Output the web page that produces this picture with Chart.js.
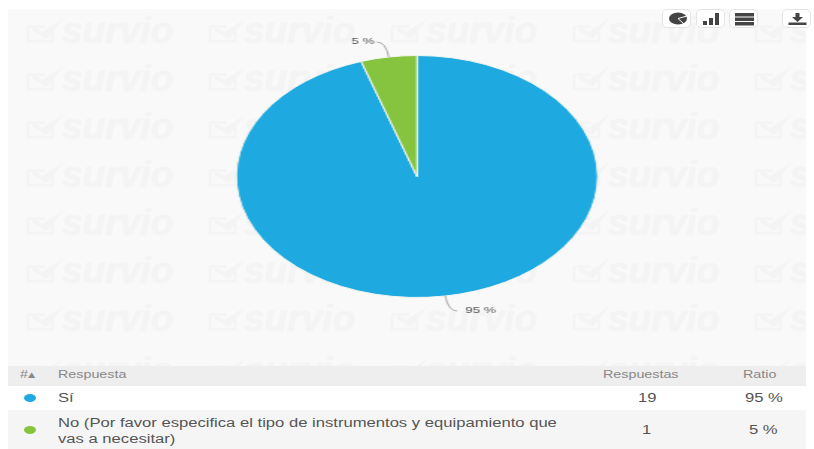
<!DOCTYPE html>
<html>
<head>
<meta charset="utf-8">
<script src="https://cdn.jsdelivr.net/npm/chart.js@4"></script>
<style>
  html, body { margin: 0; padding: 0; background: #fff; }
  #pagina { position: relative; width: 814px; height: 449px; overflow: hidden; font-family: "Liberation Sans", Arial, sans-serif; }
  #painel { position: absolute; left: 8px; top: 9px; width: 798px; height: 357px; background: #f9f9f9; overflow: hidden; }
  .marca { position: absolute; color: #f4f4f4; font-weight: bold; font-style: italic; font-size: 36px; line-height: 36px; white-space: nowrap; transform-origin: left top; transform: scaleX(1.03); -webkit-text-stroke: 0.6px #f4f4f4; }
  .visto { position: absolute; }
  #grafico { position: absolute; left: 0; top: 0; width: 814px; height: 366px; }
  .botao { position: absolute; top: 9px; width: 27px; height: 17px; background: #fff; border: 1px solid #e4e4e4; border-radius: 5px; }
  .botao svg { position: absolute; left: 3px; top: 2px; }
  .linha { position: absolute; left: 8px; width: 798px; }
  .txt { position: absolute; white-space: nowrap; transform-origin: left top; font-size: 11px; line-height: 14px; color: #555; }
  .ponto { position: absolute; width: 12px; height: 8px; border-radius: 50%; }
</style>
</head>
<body>
<div id="pagina">
  <div id="painel"></div>
  <canvas id="grafico" width="545" height="366" style="width:814px;height:366px"></canvas>
  <div class="botao" style="left:662px"><svg width="27" height="14" viewBox="0 0 27 14"><ellipse cx="12" cy="6.500" rx="9" ry="6" fill="#444"/><path d="M12 6.500L21 4M12 6.500L18 12" stroke="#fff" stroke-width="1"/></svg></div>
  <div class="botao" style="left:696px"><svg width="27" height="14" viewBox="0 0 27 14"><rect x="3" y="9" width="4" height="4" fill="#444"/><rect x="9" y="6" width="4" height="7" fill="#444"/><rect x="15" y="1" width="4" height="12" fill="#444"/></svg></div>
  <div class="botao" style="left:729px"><svg width="27" height="14" viewBox="0 0 27 14"><rect x="2" y="1" width="19" height="3.500" fill="#444"/><rect x="2" y="5.500" width="19" height="3.500" fill="#444"/><rect x="2" y="10" width="19" height="3.500" fill="#444"/></svg></div>
  <div class="botao" style="left:782px"><svg width="27" height="14" viewBox="0 0 27 14"><path d="M9.500 1h4v4h3.500L11.500 10 6 5h3.500z" fill="#444"/><rect x="2.500" y="10.500" width="18" height="2.500" fill="#444"/></svg></div>
  <div class="linha" style="top:366px;height:20px;background:#eeeeee"></div>
  <div class="linha" style="top:386px;height:24px;background:#ffffff"></div>
  <div class="linha" style="top:410px;height:39px;background:#f5f5f5"></div>
  <div id="tabela"></div>
</div>
<script>
// Respostas da pergunta
const categorias = ["Sí", "No (Por favor especifica el tipo de instrumentos y equipamiento que\nvas a necesitar)"];
const respuestas = [19, 1];
const ratios = ["95 %", "5 %"];
const cores = ["#1fa9e1", "#86c440"];
const cabecalho = ["#", "Respuesta", "Respuestas", "Ratio"];
const marcaTexto = "survio";

// Marca d'água repetida no fundo do painel
const painel = document.getElementById("painel");
for (let lin = 0; lin < 8; lin++) {
  const y = lin * 48 + (lin === 7 ? 4 : 0); // a última fileira fica quase toda cortada
  for (let col = 0; col < 5; col++) {
    const visto = document.createElement("div");
    visto.className = "visto";
    visto.style.left = (18 + col * 182) + "px";
    visto.style.top = (9 + y) + "px";
    visto.innerHTML = `<svg width="38" height="26" viewBox="0 0 38 26"><path d="M2 8.500h17M2 8.500v14.500h25v-10" fill="none" stroke="#f4f4f4" stroke-width="2.500"/><path d="M6 12l3-3 7 5L37 1 22 20h-4z" fill="#f4f4f4"/></svg>`;
    painel.appendChild(visto);
    const el = document.createElement("div");
    el.className = "marca";
    el.style.left = (54 + col * 182) + "px";
    el.style.top = (3.500 + y) + "px";
    el.textContent = marcaTexto;
    painel.appendChild(el);
  }
}

// Tabela abaixo do gráfico
const tabela = document.getElementById("tabela");
function addTexto(texto, x, y, cor, escala, tamanho, centro) {
  const el = document.createElement("div");
  el.className = "txt";
  el.textContent = texto;
  el.style.left = x + "px";
  el.style.top = y + "px";
  el.style.color = cor;
  el.style.fontSize = tamanho + "px";
  el.style.transform = `scaleX(${escala})`;
  tabela.appendChild(el);
  if (centro) el.style.left = (x - el.offsetWidth * escala / 2) + "px";
  return el;
}
addTexto(cabecalho[0] + "▴", 20, 367, "#888", 1.3, 11, false);
addTexto(cabecalho[1], 58, 367, "#888", 1.3, 11, false);
addTexto(cabecalho[2], 640.5, 367, "#888", 1.3, 11, true);
addTexto(cabecalho[3], 759.5, 367, "#888", 1.3, 11, true);

const linhasY = [391, 423];
categorias.forEach((cat, i) => {
  const ponto = document.createElement("div");
  ponto.className = "ponto";
  ponto.style.left = "24px";
  ponto.style.top = (linhasY[i] + 3) + "px";
  ponto.style.background = cores[i];
  tabela.appendChild(ponto);
  const partes = cat.split("\n");
  partes.forEach((p, j) => {
    addTexto(p, 58, (partes.length > 1 ? 416 + j * 16 : linhasY[i]), "#555", 1.385, 12, false);
  });
  addTexto(String(respuestas[i]), 647, linhasY[i], "#555", 1.385, 12, true);
  addTexto(ratios[i], 764, linhasY[i], "#555", 1.385, 12, true);
});

// Rótulos com linha guia, desenhados no espaço do canvas
const rotulosPlugin = {
  id: "rotulos",
  afterDatasetsDraw(chart) {
    const ctx = chart.ctx;
    chart.getDatasetMeta(0).data.forEach((arc, i) => {
      const p = arc.getProps(["x", "y", "outerRadius", "startAngle", "endAngle"], true);
      const meio = (p.startAngle + p.endAngle) / 2;
      const px = p.x + Math.cos(meio) * p.outerRadius;
      const py = p.y + Math.sin(meio) * p.outerRadius;
      const lado = Math.cos(meio) >= 0 ? 1 : -1;
      const topo = Math.sin(meio) < 0 ? -1 : 1;
      const ex = px + lado * 2;
      const ey = py + topo * 15;
      ctx.save();
      ctx.strokeStyle = "#a8a8a8";
      ctx.lineWidth = 1;
      ctx.beginPath();
      ctx.moveTo(px, py);
      ctx.quadraticCurveTo(ex, ey, ex + lado * 6, ey);
      ctx.stroke();
      ctx.fillStyle = "#555";
      ctx.font = "9px 'Liberation Sans', Arial, sans-serif";
      ctx.textAlign = lado > 0 ? "left" : "right";
      ctx.textBaseline = "middle";
      ctx.fillText(ratios[i], ex + (lado > 0 ? 11.4 : -7.5), ey);
      ctx.restore();
    });
  }
};

new Chart(document.getElementById("grafico"), {
  type: "pie",
  data: {
    labels: categorias,
    datasets: [{
      data: respuestas,
      backgroundColor: cores,
      borderColor: "#f2f6ee",
      borderWidth: 1
    }]
  },
  options: {
    responsive: false,
    animation: false,
    layout: { padding: { left: 13.4, right: 0, top: 55, bottom: 68 } },
    plugins: { legend: { display: false }, tooltip: { enabled: false } }
  },
  plugins: [rotulosPlugin]
});
</script>
</body>
</html>
